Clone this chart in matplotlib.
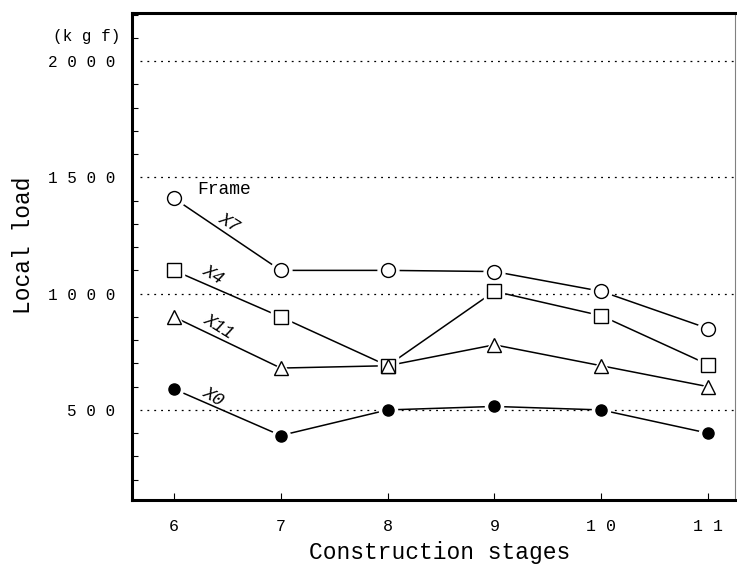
import numpy as np
import matplotlib
matplotlib.use("Agg")
import matplotlib.pyplot as plt
from matplotlib.ticker import MultipleLocator

# construction stages and local loads (kgf)
stages = [6, 7, 8, 9, 10, 11]
frame_x7 = [1410, 1100, 1100, 1095, 1010, 850]
frame_x4 = [1100, 900, 690, 1010, 905, 695]
frame_x11 = [900, 680, 690, 780, 690, 600]
frame_x0 = [590, 390, 500, 515, 500, 400]

series_names = ["X7", "X4", "X11", "X0"]
ytick_vals = [500, 1000, 1500, 2000]
ytick_text = ["5 0 0", "1 0 0 0", "1 5 0 0", "2 0 0 0"]
xtick_text = ["6", "7", "8", "9", "1 0", "1 1"]

plt.rcParams['font.family'] = ['Liberation Mono', 'DejaVu Sans Mono']

fig = plt.figure(figsize=(7.37, 5.72), dpi=100)
ax = fig.add_axes([0.179, 0.126, 0.818, 0.851])

for v in ytick_vals:
    ax.axhline(v, xmin=0.013, xmax=1, color="black", lw=0.9, ls=(0, (1.5, 4)), zorder=1)

styles = [
    dict(marker="o", ms=10, mfc="white"),
    dict(marker="s", ms=9.5, mfc="white"),
    dict(marker="^", ms=10, mfc="white"),
    dict(marker="o", ms=8, mfc="black"),
]
data = [frame_x7, frame_x4, frame_x11, frame_x0]

for y, st in zip(data, styles):
    ax.plot(stages, y, color="black", lw=1.1, zorder=2)
for y, st in zip(data, styles):
    # white halo so the lines stop short of the markers
    ax.plot(stages, y, ls="none", marker=st["marker"], ms=st["ms"] + 5,
            color="white", mec="white", zorder=3)
for y, st in zip(data, styles):
    ax.plot(stages, y, ls="none", marker=st["marker"], ms=st["ms"],
            mfc=st["mfc"], mec="black", mew=1.0, zorder=4)

# labels along the first segments
label_pos = [(6.52, 1305), (6.37, 1080), (6.42, 858), (6.37, 558)]
for name, (lx, ly) in zip(series_names, label_pos):
    ax.text(lx, ly, name, fontsize=13, fontstyle="italic", rotation=-32,
            ha="center", va="center", zorder=5)
ax.text(6.22, 1446, "Frame", fontsize=13, ha="left", va="center")

ax.set_xlim(5.607, 11.25)
ax.set_ylim(113, 2206)
ax.set_xticks(stages)
ax.set_xticklabels(xtick_text, fontsize=12)
ax.set_yticks(ytick_vals)
ax.set_yticklabels(ytick_text, fontsize=11.5)
ax.yaxis.set_minor_locator(MultipleLocator(100))
ax.tick_params(axis="y", which="major", length=0, pad=12)
ax.tick_params(axis="y", which="minor", direction="in", length=4, width=0.8)
ax.tick_params(axis="x", direction="in", length=5, width=0.8, pad=14)

for side in ["left", "top", "bottom"]:
    ax.spines[side].set_linewidth(2.2)
ax.spines["right"].set_linewidth(0.8)
ax.spines["right"].set_color("0.5")

fig.text(440 / 737, 1 - 553 / 572, "Construction stages", fontsize=16.5,
         ha="center", va="center")
fig.text(24 / 737, 1 - 245 / 572, "Local load", rotation=90, fontsize=16.5,
         ha="center", va="center")
fig.text(120 / 737, 1 - 36 / 572, "(k g f)", fontsize=11.5, ha="right", va="center")

fig.savefig("out.png", dpi=100)
